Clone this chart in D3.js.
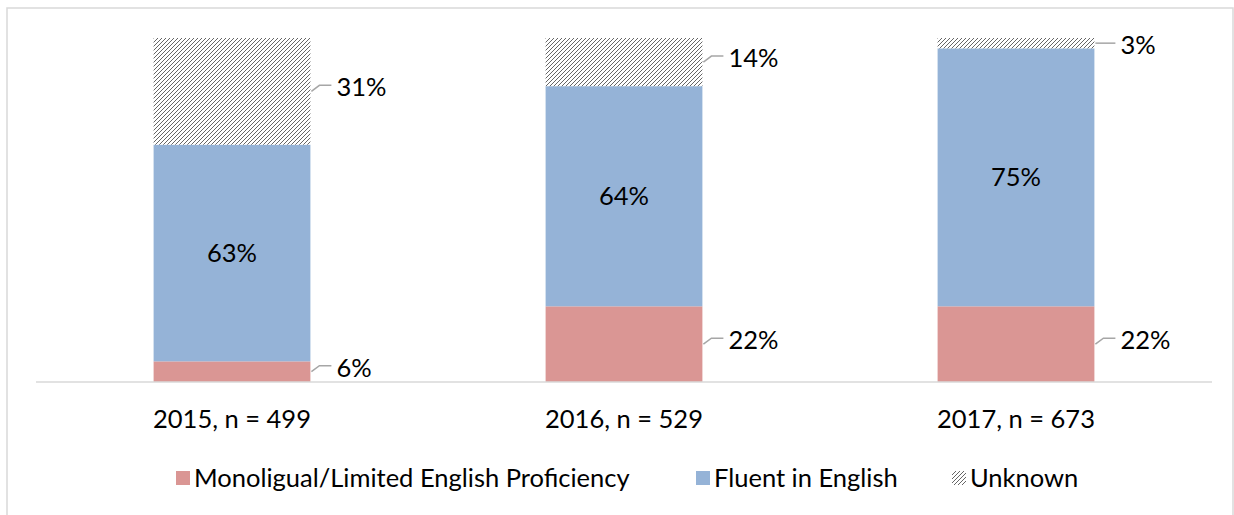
<!DOCTYPE html>
<html>
<head>
<meta charset="utf-8">
<script src="https://cdn.jsdelivr.net/npm/d3@7"></script>
<style>
  body { margin: 0; background: #fff; }
  svg { display: block; font-family: Lato, "Open Sans", sans-serif; }
</style>
</head>
<body>
<script>
// chart data
const years = ["2015, n = 499", "2016, n = 529", "2017, n = 673"];
const limited = [6, 22, 22];
const fluent = [63, 64, 75];
const unknown = [31, 14, 3];
const seriesNames = ["Monoligual/Limited English Proficiency", "Fluent in English", "Unknown"];

const w = 1234, h = 515;
const plotLeft = 36, plotRight = 1212, plotTop = 38, plotBottom = 382;
const fs = 25.5;

const svg = d3.select("body").append("svg")
  .attr("width", w)
  .attr("height", h);

// hatch pattern for unknown
const defs = svg.append("defs");
const pat = defs.append("pattern")
  .attr("id", "hatch")
  .attr("patternUnits", "userSpaceOnUse")
  .attr("width", 4)
  .attr("height", 4);
pat.append("rect").attr("width", 4).attr("height", 4).attr("fill", "#fff");
pat.append("path")
  .attr("d", "M-1,1 l2,-2 M0,4 l4,-4 M3,5 l2,-2")
  .attr("stroke", "#666")
  .attr("stroke-width", 1);

// outer border
svg.append("rect")
  .attr("x", 7).attr("y", 8)
  .attr("width", 1226).attr("height", 530)
  .attr("fill", "none")
  .attr("stroke", "#d9d9d9")
  .attr("stroke-width", 1.5);

const x = d3.scaleBand()
  .domain(years)
  .range([plotLeft, plotRight])
  .paddingInner(0.6)
  .paddingOuter(0.3);

const y = d3.scaleLinear()
  .domain([0, 100])
  .range([plotBottom, plotTop]);

const colors = ["#da9694", "#95b3d7", "url(#hatch)"];

const rows = years.map((yr, i) => ({ year: yr, vals: [limited[i], fluent[i], unknown[i]] }));
const stacked = [];
rows.forEach(r => {
  let acc = 0;
  r.vals.forEach((v, k) => {
    stacked.push({ year: r.year, k: k, v: v, y0: acc, y1: acc + v });
    acc += v;
  });
});

svg.selectAll("rect.seg")
  .data(stacked)
  .enter()
  .append("rect")
  .attr("class", "seg")
  .attr("x", d => x(d.year))
  .attr("y", d => y(d.y1))
  .attr("width", x.bandwidth())
  .attr("height", d => y(d.y0) - y(d.y1))
  .attr("fill", d => colors[d.k]);

// x axis line
svg.append("line")
  .attr("x1", plotLeft).attr("x2", plotRight)
  .attr("y1", plotBottom).attr("y2", plotBottom)
  .attr("stroke", "#d9d9d9")
  .attr("stroke-width", 1.5);

// category labels
svg.selectAll("text.cat")
  .data(years)
  .enter()
  .append("text")
  .attr("class", "cat")
  .attr("x", d => x(d) + x.bandwidth() / 2)
  .attr("y", 428)
  .attr("text-anchor", "middle")
  .attr("font-size", fs)
  .attr("fill", "#000")
  .text(d => d);

// inside labels for fluent
svg.selectAll("text.inner")
  .data(stacked.filter(d => d.k === 1))
  .enter()
  .append("text")
  .attr("class", "inner")
  .attr("x", d => x(d.year) + x.bandwidth() / 2)
  .attr("y", d => y((d.y0 + d.y1) / 2))
  .attr("dy", "0.35em")
  .attr("text-anchor", "middle")
  .attr("font-size", fs)
  .text(d => d.v + "%");

// outside labels with leader lines
const outside = stacked.filter(d => d.k !== 1);
outside.forEach(d => {
  const bx = x(d.year) + x.bandwidth() + 1;
  const mid = y((d.y0 + d.y1) / 2);
  const rise = d.v > 5 ? 6 : 0;
  const ty = mid - rise;
  svg.append("path")
    .attr("d", `M${bx},${mid} L${bx + 8},${ty} L${bx + 20},${ty}`)
    .attr("fill", "none")
    .attr("stroke", "#a6a6a6")
    .attr("stroke-width", 1.5);
  svg.append("text")
    .attr("x", bx + 25)
    .attr("y", ty + 2)
    .attr("dy", "0.35em")
    .attr("font-size", fs)
    .text(d.v + "%");
});

// legend
const legX = [176, 696, 952];
const legend = svg.selectAll("g.leg")
  .data(seriesNames)
  .enter()
  .append("g")
  .attr("class", "leg")
  .attr("transform", (d, i) => `translate(${legX[i]}, 471)`);
legend.append("rect")
  .attr("width", 14).attr("height", 14)
  .attr("fill", (d, i) => colors[i]);
legend.append("text")
  .attr("x", 18)
  .attr("y", 7)
  .attr("dy", "0.35em")
  .attr("font-size", fs)
  .text(d => d);
</script>
</body>
</html>
